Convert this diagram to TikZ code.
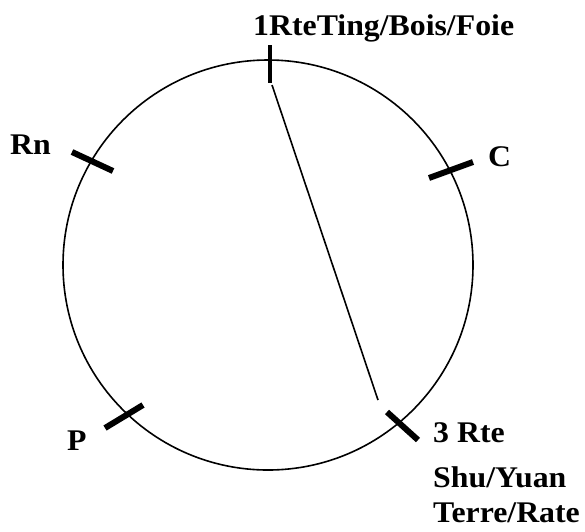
\documentclass[tikz,border=0pt]{standalone}
\usepackage{fontspec}
\setmainfont{Liberation Serif}[FakeStretch=1.06]
\begin{document}
\begin{tikzpicture}[x=1pt,y=-1pt,
  lbl/.style={font=\fontsize{30}{36}\selectfont\bfseries,inner sep=0pt,anchor=base west},
  tickmark/.style={line width=6pt},
  rim/.style={line width=1.6pt}]
\useasboundingbox (0,0) rectangle (585,531);

\draw[rim] (268,265) circle [radius=205pt];

% tick marks on the rim
\draw[tickmark,line width=4.5pt] (270,45) -- (270,83);
\draw[tickmark] (72,152) -- (113,171);
\draw[tickmark] (429,178) -- (473,162);
\draw[tickmark] (105,428) -- (143,405);
\draw[tickmark] (387,412) -- (418,440);

\coordinate (ting) at (272,85);
\coordinate (shu) at (378,400);
\draw[rim] (ting) -- (shu);

\node[lbl] (bois) at (253,35) {1RteTing/Bois/Foie};
\node[lbl] (rn) at (10,154) {Rn};
\node[lbl] (c) at (488,166) {C};
\node[lbl] (p) at (67,450) {P};
\node[lbl] (rte3) at (433,442) {3 Rte};
\node[lbl] (yuan) at (433,487) {Shu/Yuan};
\node[lbl] (rate) at (433,522) {Terre/Rate};
\end{tikzpicture}
\end{document}
